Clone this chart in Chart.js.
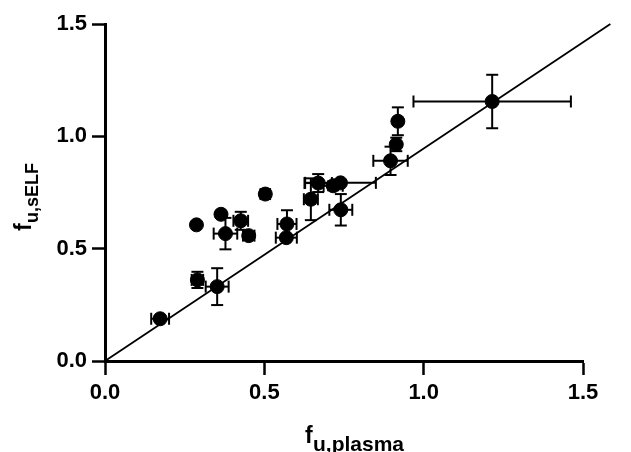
<!DOCTYPE html>
<html>
<head>
<meta charset="utf-8">
<script src="https://cdn.jsdelivr.net/npm/chart.js@4/dist/chart.umd.min.js"></script>
<style>
  html, body { margin: 0; padding: 0; background: #fff; }
  #wrap { width: 631px; height: 452px; }
</style>
</head>
<body>
<div id="wrap"><canvas id="fu_chart" width="631" height="452"></canvas></div>
<script>
var xVals = [0.173, 0.290, 0.352, 0.287, 0.364, 0.378, 0.426, 0.451, 0.503, 0.571,
             0.569, 0.646, 0.669, 0.716, 0.739, 0.740, 0.896, 0.914, 0.919, 1.215];
var yVals = [0.188, 0.361, 0.331, 0.606, 0.653, 0.567, 0.624, 0.558, 0.743, 0.610,
             0.549, 0.720, 0.792, 0.780, 0.793, 0.673, 0.891, 0.964, 1.067, 1.155];
var xErr  = [0.028, 0.018, 0.036, 0, 0, 0.037, 0.023, 0.018, 0.015, 0.030,
             0.033, 0.022, 0.043, 0.030, 0.111, 0.036, 0.054, 0, 0, 0.247];
var yErr  = [0, 0.036, 0.082, 0, 0, 0.070, 0.040, 0.010, 0.015, 0.061,
             0.010, 0.093, 0.040, 0.020, 0.010, 0.070, 0.063, 0.030, 0.062, 0.119];
var refLineX = [0, 1.586];
var refLineY = [0, 1.5];
var tickVals = [0, 0.5, 1.0, 1.5];

var FONT = "'Liberation Sans', Arial, sans-serif";

// error bars with caps, drawn under the points
var errorBars = {
  id: 'errorBars',
  beforeDatasetsDraw: function (chart) {
    var ctx = chart.ctx, sx = chart.scales.x, sy = chart.scales.y, cap = 6;
    ctx.save();
    ctx.strokeStyle = '#000';
    ctx.lineWidth = 2;
    function seg(a, b, c, d) { ctx.beginPath(); ctx.moveTo(a, b); ctx.lineTo(c, d); ctx.stroke(); }
    for (var i = 0; i < xVals.length; i++) {
      var px = sx.getPixelForValue(xVals[i]);
      var py = sy.getPixelForValue(yVals[i]);
      if (xErr[i] > 0) {
        var l = sx.getPixelForValue(xVals[i] - xErr[i]);
        var r = sx.getPixelForValue(xVals[i] + xErr[i]);
        seg(l, py, r, py);
        seg(l, py - cap, l, py + cap);
        seg(r, py - cap, r, py + cap);
      }
      if (yErr[i] > 0) {
        var t = sy.getPixelForValue(yVals[i] + yErr[i]);
        var b = sy.getPixelForValue(yVals[i] - yErr[i]);
        seg(px, t, px, b);
        seg(px - cap, t, px + cap, t);
        seg(px - cap, b, px + cap, b);
      }
    }
    ctx.restore();
  }
};

// axis titles with subscripts
var axisTitles = {
  id: 'axisTitles',
  afterDraw: function (chart) {
    var ctx = chart.ctx;
    ctx.save();
    ctx.fillStyle = '#000';
    ctx.textBaseline = 'alphabetic';
    ctx.textAlign = 'left';
    // x title
    ctx.font = 'bold 23px ' + FONT;
    ctx.fillText('f', 305, 443);
    ctx.font = 'bold 21px ' + FONT;
    ctx.fillText('u,plasma', 313, 451);
    // y title
    ctx.translate(31, 231);
    ctx.rotate(-Math.PI / 2);
    ctx.font = 'bold 23px ' + FONT;
    ctx.fillText('f', 0, 0);
    ctx.font = 'bold 18px ' + FONT;
    ctx.fillText('u,sELF', 8, 7);
    ctx.restore();
  }
};

var points = xVals.map(function (v, i) { return { x: v, y: yVals[i] }; });
var refLine = refLineX.map(function (v, i) { return { x: v, y: refLineY[i] }; });

var axisCommon = {
  type: 'linear',
  min: 0,
  max: 1.5,
  afterBuildTicks: function (s) { s.ticks = tickVals.map(function (v) { return { value: v }; }); },
  grid: { drawOnChartArea: false, drawTicks: true, tickLength: 13, tickWidth: 2.5, tickColor: '#000' },
  border: { display: true, width: 3, color: '#000' },
  ticks: {
    color: '#000',
    padding: 5,
    font: { family: FONT, size: 22, weight: 'bold' },
    callback: function (v) { return Number(v).toFixed(1); }
  }
};

new Chart(document.getElementById('fu_chart').getContext('2d'), {
  type: 'scatter',
  data: {
    datasets: [{
      label: 'fu',
      data: points,
      backgroundColor: '#000',
      borderColor: '#000',
      pointRadius: 7,
      pointHoverRadius: 7,
      order: 0
    }, {
      type: 'line',
      label: 'identity',
      data: refLine,
      borderColor: '#000',
      borderWidth: 1.8,
      pointRadius: 0,
      fill: false,
      clip: false,
      order: 1
    }]
  },
  options: {
    responsive: false,
    animation: false,
    devicePixelRatio: 1,
    layout: { padding: { top: 24, right: 48, bottom: 0, left: 0 } },
    plugins: { legend: { display: false }, tooltip: { enabled: false } },
    scales: {
      x: Object.assign({}, axisCommon, {
        position: 'bottom',
        grid: Object.assign({}, axisCommon.grid, { tickLength: 14 }),
        afterFit: function (s) { s.height = 91; }
      }),
      y: Object.assign({}, axisCommon, {
        position: 'left',
        afterFit: function (s) { s.width = 105; }
      })
    }
  },
  plugins: [errorBars, axisTitles]
});
</script>
</body>
</html>
